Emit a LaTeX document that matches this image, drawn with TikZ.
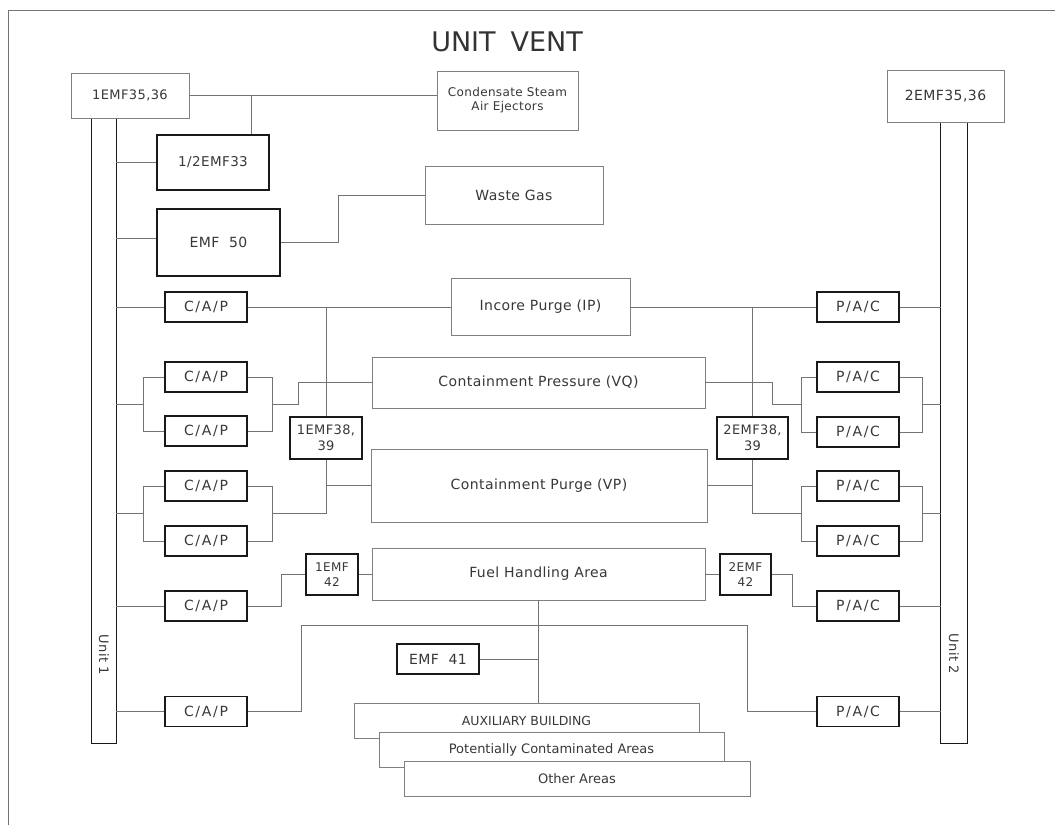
\documentclass[tikz,border=0pt]{standalone}
\usepackage{fontspec}
\setmainfont{DejaVu Sans}
\newfontfamily\cadfont[LetterSpace=3]{DejaVu Sans}
\newfontfamily\capfont[LetterSpace=12]{DejaVu Sans}
\usetikzlibrary{calc}
\tikzset{
  lbox/.style={draw=black!50, line width=0.8pt, fill=white, inner sep=0pt, align=center,
    text=black!78, font=\cadfont\fontsize{14}{16}\selectfont},
  dbox/.style={lbox, draw=black!90, line width=1.3pt},
  capbox/.style={dbox, minimum width=82pt, minimum height=30pt, font=\capfont\fontsize{14}{16}\selectfont},
  conn/.style={draw=black!55, line width=0.8pt},
  barline/.style={draw=black!90, line width=1.3pt},
  rot/.style={rotate=-90, inner sep=0pt, text=black!78, font=\cadfont\fontsize{13}{15}\selectfont},
  frameline/.style={draw=black!55, line width=0.8pt},
}
\begin{document}
\begin{tikzpicture}[x=1pt,y=-1pt]
\useasboundingbox (0,0) rectangle (1055,825);
\draw[frameline] (8,825) -- (8,10) -- (1055,10);

\node[text=black!80, font=\fontsize{27}{30}\selectfont, inner sep=0pt] (title) at (507,42) {UNIT\hspace{0.55em}VENT};

% unit bars
\node[minimum width=24pt, minimum height=625pt, inner sep=0pt] (u1) at (104,430.5) {};
\draw[barline] (u1.north west) -- (u1.south west) -- (u1.south east) -- (u1.north east);
\node[rot] (u1l) at (104,655) {Unit 1};
\node[minimum width=26pt, minimum height=621pt, inner sep=0pt] (u2) at (954,432.5) {};
\draw[barline] (u2.north west) -- (u2.south west) -- (u2.south east) -- (u2.north east);
\node[rot] (u2l) at (954,654) {Unit 2};

% boxes
\node[lbox, minimum width=118pt, minimum height=45pt, font=\cadfont\fontsize{13}{15}\selectfont] (e1) at (130,95.5) {1EMF35,36};
\node[lbox, minimum width=117pt, minimum height=52pt] (e2) at (945.5,96) {2EMF35,36};
\node[lbox, minimum width=141pt, minimum height=59pt, font=\cadfont\fontsize{12}{14}\selectfont] (cond) at (507.5,100.5) {Condensate Steam\\Air Ejectors};
\node[dbox, minimum width=112pt, minimum height=55pt, font=\cadfont\fontsize{13.5}{16}\selectfont] (e33) at (213,162.5) {1/2EMF33};
\node[dbox, minimum width=123pt, minimum height=67pt] (e50) at (218.5,242.5) {EMF\ \ 50};
\node[lbox, minimum width=178pt, minimum height=58pt] (wg) at (514,195) {Waste Gas};
\node[lbox, minimum width=179pt, minimum height=57pt] (ip) at (540.5,306.5) {Incore Purge (IP)};
\node[lbox, minimum width=333pt, minimum height=51pt] (vq) at (538.5,382.5) {Containment Pressure (VQ)};
\node[lbox, minimum width=336pt, minimum height=73pt] (vp) at (539,485.5) {Containment Purge (VP)};
\node[lbox, minimum width=333pt, minimum height=52pt] (fha) at (538.5,574) {Fuel Handling Area};

\node[capbox] (c1) at (206,307) {C/A/P};
\node[capbox] (c2a) at (206,377) {C/A/P};
\node[capbox] (c2b) at (206,431) {C/A/P};
\node[capbox] (c3a) at (206,486) {C/A/P};
\node[capbox] (c3b) at (206,541) {C/A/P};
\node[capbox] (c4) at (206,606) {C/A/P};
\node[capbox] (c5) at (206,711.5) {C/A/P};

\node[capbox] (p1) at (858,307) {P/A/C};
\node[capbox] (p2a) at (858,377) {P/A/C};
\node[capbox] (p2b) at (858,432) {P/A/C};
\node[capbox] (p3a) at (858,486) {P/A/C};
\node[capbox] (p3b) at (858,541) {P/A/C};
\node[capbox] (p4) at (858,606) {P/A/C};
\node[capbox] (p5) at (858,711.5) {P/A/C};

\node[dbox, minimum width=72pt, minimum height=42pt, font=\cadfont\fontsize{13}{16}\selectfont] (e38a) at (326,438) {1EMF38,\\39};
\node[dbox, minimum width=71pt, minimum height=42pt, font=\cadfont\fontsize{13}{16}\selectfont] (e38b) at (752.5,438) {2EMF38,\\39};
\node[dbox, minimum width=52pt, minimum height=41pt, font=\cadfont\fontsize{12}{15}\selectfont] (e42a) at (332,574.5) {1EMF\\42};
\node[dbox, minimum width=51pt, minimum height=41pt, font=\cadfont\fontsize{12}{15}\selectfont] (e42b) at (745.5,574.5) {2EMF\\42};
\node[dbox, minimum width=82pt, minimum height=30pt] (e41) at (438,659) {EMF\ \ 41};

\node[lbox, minimum width=345pt, minimum height=35pt, font=\fontsize{12.5}{15}\selectfont] (aux) at (526.5,720.5) {AUXILIARY BUILDING};
\node[lbox, minimum width=345pt, minimum height=35pt, font=\fontsize{13}{15}\selectfont] (pca) at (551.5,749.5) {Potentially Contaminated Areas};
\node[lbox, minimum width=346pt, minimum height=35pt, font=\fontsize{13}{15}\selectfont] (oth) at (577,778.5) {Other Areas};

% top connectors
\coordinate (j1) at (251,95.5);
\draw[conn] (e1.east) -- (cond.west |- e1.east);
\draw[conn] (j1) -- (j1 |- e33.north);
\draw[conn] (u1.east |- e33.west) -- (e33.west);
\coordinate (t50) at (116,238);
\draw[conn] (u1.east |- t50) -- (e50.west |- t50);
\draw[conn] (e50.east) -- ++(58,0) |- (wg.west);

% incore purge row
\draw[conn] (u1.east |- c1.west) -- (c1.west);
\draw[conn] (c1.east) -- (ip.west |- c1.east);
\draw[conn] (e38a.north |- c1.east) -- (e38a.north);
\draw[conn] (ip.east |- p1.west) -- (p1.west);
\draw[conn] (e38b.north |- p1.west) -- (e38b.north);
\draw[conn] (p1.east) -- (u2.west |- p1.east);

% containment pressure, unit 1
\coordinate (m2) at ($(c2a.west)!0.5!(c2b.west)$);
\coordinate (m2r) at ($(c2a.east)!0.5!(c2b.east)+(25,0)$);
\draw[conn] (c2a.west) -- ++(-21,0) |- (c2b.west);
\draw[conn] (c2a.east) -- ++(25,0) |- (c2b.east);
\draw[conn] (u1.east |- m2) -- ++(28,0);
\draw[conn] (m2r) -- ++(26,0) |- (vq.west);

% containment purge, unit 1
\coordinate (m3) at ($(c3a.west)!0.5!(c3b.west)$);
\coordinate (m3r) at ($(c3a.east)!0.5!(c3b.east)+(25,0)$);
\draw[conn] (c3a.west) -- ++(-21,0) |- (c3b.west);
\draw[conn] (c3a.east) -- ++(25,0) |- (c3b.east);
\draw[conn] (u1.east |- m3) -- ++(28,0);
\draw[conn] (m3r) -| (e38a.south);
\draw[conn] (e38a.south |- vp.west) -- (vp.west);

% fuel handling, unit 1
\draw[conn] (u1.east |- c4.west) -- (c4.west);
\draw[conn] (c4.east) -- ++(34,0) |- (e42a.west);
\draw[conn] (e42a.east) -- (fha.west |- e42a.east);

% fuel handling, unit 2
\draw[conn] (fha.east |- e42b.west) -- (e42b.west);
\draw[conn] (e42b.east) -- ++(21,0) |- (p4.west);
\draw[conn] (p4.east) -- (u2.west |- p4.east);

% containment pressure, unit 2
\coordinate (pm2l) at ($(p2a.west)!0.5!(p2b.west)+(-15,0)$);
\coordinate (pm2r) at ($(p2a.east)!0.5!(p2b.east)+(23,0)$);
\draw[conn] (vq.east) -- ++(67,0) |- (pm2l);
\draw[conn] (p2a.west) -- ++(-15,0) |- (p2b.west);
\draw[conn] (p2a.east) -- ++(23,0) |- (p2b.east);
\draw[conn] (pm2r) -- (u2.west |- pm2r);

% containment purge, unit 2
\coordinate (pm3l) at ($(p3a.west)!0.5!(p3b.west)+(-15,0)$);
\coordinate (pm3r) at ($(p3a.east)!0.5!(p3b.east)+(23,0)$);
\draw[conn] (vp.east) -- (e38b.south |- vp.east);
\draw[conn] (e38b.south) |- (pm3l);
\draw[conn] (p3a.west) -- ++(-15,0) |- (p3b.west);
\draw[conn] (p3a.east) -- ++(23,0) |- (p3b.east);
\draw[conn] (pm3r) -- (u2.west |- pm3r);

% bottom
\draw[conn] (fha.south) -- (fha.south |- aux.north);
\draw[conn] (e41.east) -- (fha.south |- e41.east);
\coordinate (hl) at (301,625);
\coordinate (hr) at (747,625);
\draw[conn] (c5.east) -| (hl) -- (hr) |- (p5.west);
\draw[conn] (u1.east |- c5.west) -- (c5.west);
\draw[conn] (p5.east) -- (u2.west |- p5.east);
\end{tikzpicture}
\end{document}
